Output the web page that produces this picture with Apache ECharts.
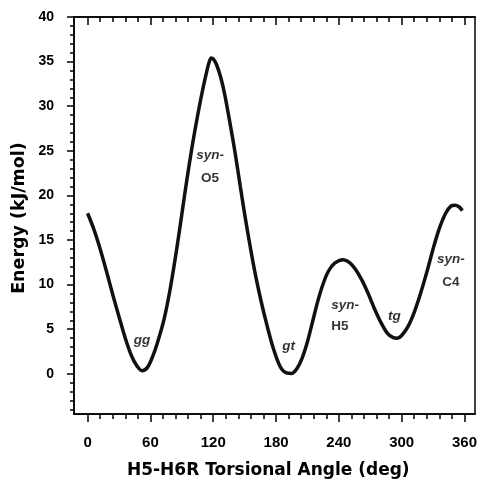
<!DOCTYPE html>
<html>
<head>
<meta charset="utf-8">
<script src="https://cdn.jsdelivr.net/npm/echarts@6/dist/echarts.min.js"></script>
<style>
  html, body { margin: 0; padding: 0; background: #fff; }
  #chart { width: 480px; height: 482px; }
</style>
</head>
<body>
<div id="chart"></div>
<script>
// torsional angle (deg) and energy (kJ/mol)
var angle = [0, 6, 12, 18, 24, 30, 36, 42, 47, 52, 57, 62, 67, 73, 79, 85, 90, 95, 100, 105,
  110, 114, 116, 118, 120, 123, 127, 131, 136, 141, 146, 151, 156, 161, 166, 171, 177, 184,
  190, 195, 200, 205, 210, 215, 220, 225, 230, 236, 244, 250, 256, 262, 268, 274, 280, 286,
  292, 296, 300, 306, 312, 318, 324, 330, 336, 342, 347, 351, 355, 358];
var energy = [18.0, 16.2, 14.0, 11.5, 8.9, 6.4, 4.0, 2.0, 0.9, 0.35, 0.7, 1.9, 3.6, 6.1, 9.6, 13.9, 17.9, 21.9, 25.6, 28.9,
  31.9, 34.0, 34.9, 35.4, 35.3, 34.7, 33.3, 31.3, 28.1, 24.7, 20.9, 17.2, 13.8, 10.7, 8.0, 5.6, 3.0, 0.8,
  0.1, 0.05, 0.6, 1.8, 3.6, 5.9, 8.2, 10.1, 11.5, 12.4, 12.8, 12.5, 11.7, 10.5, 9.0, 7.3, 5.8, 4.6,
  4.05, 4.0, 4.3, 5.3, 6.9, 9.0, 11.4, 14.0, 16.3, 18.0, 18.8, 18.9, 18.7, 18.3];

var xTicks = [0, 60, 120, 180, 240, 300, 360];
var yTicks = [0, 5, 10, 15, 20, 25, 30, 35, 40];

// conformer labels
var noteText = ["gg", "syn-", "O5", "gt", "syn-", "H5", "tg", "syn-", "C4"];
var noteX = [52, 117, 117, 192, 246, 241, 293, 347, 347];
var noteY = [3.8, 24.5, 21.9, 3.1, 7.7, 5.3, 6.4, 12.8, 10.3];

var xMinor = [];
for (var i = 12; i < 360; i += 12) if (i % 60 !== 0) xMinor.push(i);
var yMinor = [];
for (var j = -4; j < 40; j++) if (j % 5 !== 0) yMinor.push(j);

var TITLE_FONT = "DejaVu Sans";
var FONT = "Liberation Sans";
var xMin = -13, xMax = 370, yMin = -4.5, yMax = 40;

function xAx(pos, ticks, len, inside, labels) {
  return {
    type: "value", min: xMin, max: xMax, position: pos,
    axisLine: { show: true, onZero: false, lineStyle: { color: "#000", width: 1.5 } },
    axisTick: { show: true, customValues: ticks, length: len, inside: inside, lineStyle: { color: "#000", width: 1.5 } },
    axisLabel: labels ? { customValues: ticks, margin: 21, fontFamily: FONT, fontWeight: "bold", fontSize: 15, color: "#000" } : { show: false },
    splitLine: { show: false }
  };
}
function yAx(pos, ticks, len, labels) {
  return {
    type: "value", min: yMin, max: yMax, position: pos,
    axisLine: { show: true, onZero: false, lineStyle: { color: "#000", width: 1.5 } },
    axisTick: ticks ? { show: true, customValues: ticks, length: len, lineStyle: { color: "#000", width: 1.5 } } : { show: false },
    axisLabel: labels ? { customValues: ticks, margin: 20, fontFamily: FONT, fontWeight: "bold", fontSize: 14, color: "#000" } : { show: false },
    splitLine: { show: false }
  };
}

var notes = noteText.map(function (t, k) {
  return { value: [noteX[k], noteY[k]], name: t };
});

var chart = echarts.init(document.getElementById("chart"));
chart.setOption({
  backgroundColor: "#fff",
  animation: false,
  grid: { left: 74, right: 5, top: 17, bottom: 68 },
  xAxis: [
    xAx("bottom", xTicks, 8, false, true),
    xAx("bottom", xMinor, 5, false, false),
    xAx("top", xTicks, 8, true, false),
    xAx("top", xMinor, 5, true, false)
  ],
  yAxis: [
    yAx("left", yTicks, 7, true),
    yAx("left", yMinor, 4, false),
    yAx("right", null, 0, false)
  ],
  series: [
    {
      type: "line", xAxisIndex: 0, yAxisIndex: 0,
      data: angle.map(function (a, k) { return [a, energy[k]]; }),
      smooth: 0.3, showSymbol: false,
      lineStyle: { color: "#111", width: 3.5 }
    },
    {
      type: "scatter", xAxisIndex: 0, yAxisIndex: 0,
      data: notes, symbolSize: 0,
      label: {
        show: true, position: "inside", color: "#000",
        fontFamily: FONT, fontWeight: "bold", fontSize: 13.5,
        formatter: function (p) {
          return /[0-9]/.test(p.name) ? p.name : "{i|" + p.name + "}";
        },
        rich: { i: { fontStyle: "italic", fontFamily: FONT, fontWeight: "bold", fontSize: 13.5, color: "#000" } }
      }
    }
  ],
  graphic: [
    {
      type: "text", left: 277 - 150, top: 462, z: 10,
      style: { text: "H5-H6R Torsional Angle (deg)", font: "bold 17px '" + TITLE_FONT + "'", fill: "#000", width: 300, align: "center" }
    },
    {
      type: "text", x: 19, y: 218, rotation: Math.PI / 2, z: 10,
      style: { text: "Energy (kJ/mol)", font: "bold 17.5px '" + TITLE_FONT + "'", fill: "#000", align: "center", verticalAlign: "middle" }
    }
  ]
});
</script>
</body>
</html>
